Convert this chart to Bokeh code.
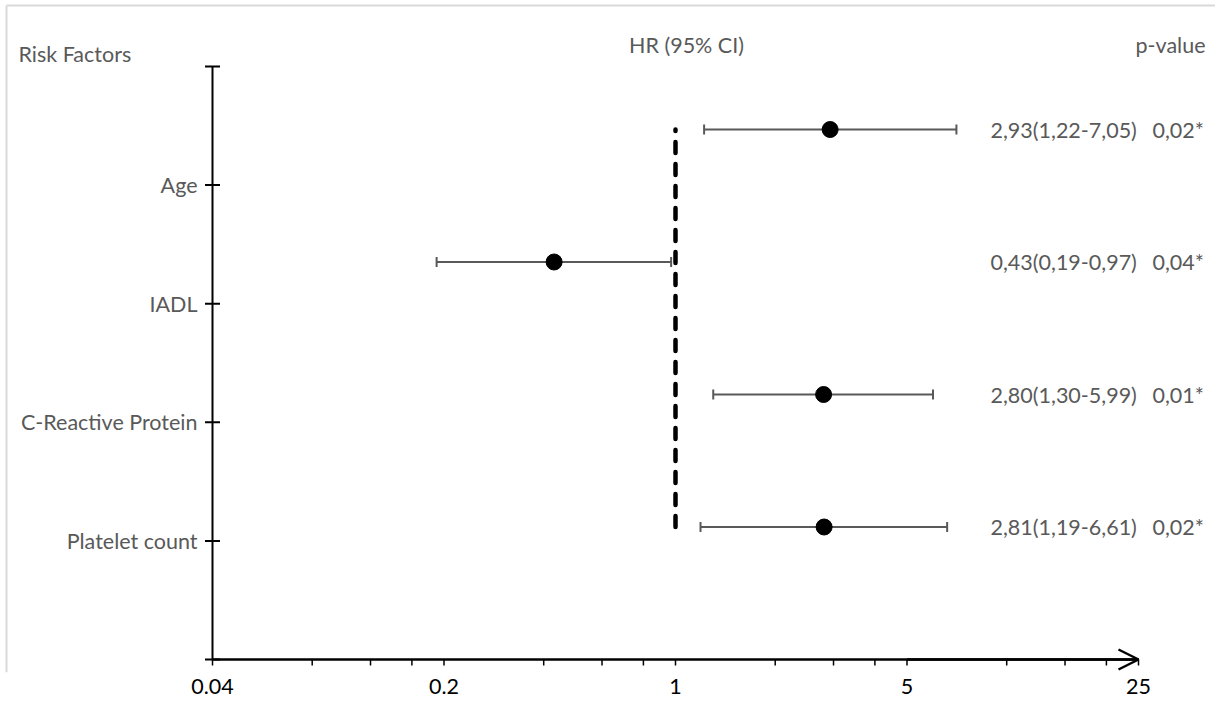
import math
from bokeh.plotting import figure
from bokeh.models import (Range1d, FixedTicker, ColumnDataSource, Whisker, TeeHead,
                          Arrow, OpenHead)
from bokeh.embed import file_html
from bokeh.resources import INLINE
from bokeh.core.properties import value

# ---------------- data ----------------
factors = ["Age", "IADL", "C-Reactive Protein", "Platelet count"]
hr = [2.93, 0.43, 2.80, 2.81]
ci_low = [1.22, 0.19, 1.30, 1.19]
ci_high = [7.05, 0.97, 5.99, 6.61]
p_values = [0.02, 0.04, 0.01, 0.02]
x_ticks = [0.04, 0.2, 1, 5, 25]
x_tick_labels = ["0.04", "0.2", "1", "5", "25"]
headers = ["Risk Factors", "HR (95% CI)", "p-value"]

# ---------------- derived ----------------
n = len(factors)
pos = [n - i for i in range(n)]  # 4,3,2,1 (top to bottom)
hr_text = [f"{h:.2f}({l:.2f}-{u:.2f})".replace(".", ",") for h, l, u in zip(hr, ci_low, ci_high)]
p_text = [f"{pv:.2f}*".replace(".", ",") for pv in p_values]
x_minor = [t * k for t in x_ticks[:-1] for k in (2, 3, 4)]

GRAY = "#595959"
BORDER = "#d9d9d9"
FONT = "Lato"
FS = "21.5px"

# ---------------- layout (page pixels) ----------------
W, H = 1215, 708
FRAME_BOTTOM = 672          # frame spans page y 0..672, x 0..W
AX_X, AX_END = 212, 1138    # page x of 0.04 and of 25 (arrow tip)
AX_Y = 659                  # page y of the x axis (y = 0)
PX_PER5 = (AX_END - AX_X) / 4
PX_Y = 118.6                # px per category step (axis ticks)
PX_PTS = 132.5              # px per step of the point rows


def xv(px):
    return x_ticks[0] * 5 ** ((px - AX_X) / PX_PER5)


def yv(py):
    return (AX_Y - py) / PX_Y


src = ColumnDataSource(dict(y=pos, hr=hr, lo=ci_low, hi=ci_high,
                            hr_text=hr_text, p_text=p_text))

p = figure(width=W, height=H, x_axis_type="log",
           x_range=Range1d(xv(0), xv(W)),
           y_range=Range1d(yv(FRAME_BOTTOM), yv(0)),
           output_backend="svg", toolbar_location=None, y_axis_location=None,
           min_border_left=0, min_border_right=0, min_border_top=0,
           min_border_bottom=H - FRAME_BOTTOM)
p.extra_y_ranges = {"pts": Range1d((AX_Y - FRAME_BOTTOM) / PX_PTS, AX_Y / PX_PTS)}
p.xgrid.visible = False
p.ygrid.visible = False
p.outline_line_color = None
p.background_fill_color = "white"
p.border_fill_color = "white"

# chart border (light grey, top and left)
p.segment(x0=xv(6), y0=yv(5), x1=xv(W), y1=yv(5), line_color=BORDER, line_width=2)
p.segment(x0=xv(6), y0=yv(5), x1=xv(6), y1=yv(FRAME_BOTTOM), line_color=BORDER, line_width=2)

# x axis: labels from Bokeh's axis; line, ticks and arrow drawn along y = 0
xa = p.xaxis[0]
xa.ticker = FixedTicker(ticks=x_ticks, minor_ticks=x_minor)
xa.major_label_overrides = {t: lab for t, lab in zip(x_ticks, x_tick_labels)}
xa.axis_line_color = None
xa.major_tick_line_color = None
xa.minor_tick_line_color = None
xa.major_tick_in = 0
xa.major_tick_out = 0
xa.minor_tick_in = 0
xa.minor_tick_out = 0
xa.major_label_standoff = 6
xa.major_label_text_font = FONT
xa.major_label_text_font_size = FS
xa.major_label_text_color = "black"

p.segment(x0=x_ticks[0], y0=0, x1=x_ticks[-1], y1=0, line_color="black", line_width=2.5)
p.ray(x=x_ticks + x_minor, y=[0] * (len(x_ticks) + len(x_minor)), length=6,
      length_units="screen", angle=-math.pi / 2, line_color="black", line_width=1.5)
p.add_layout(Arrow(end=OpenHead(size=20, line_width=2.5, line_color="black"),
                   x_start=x_ticks[-2], y_start=0, x_end=x_ticks[-1], y_end=0,
                   line_color="black", line_width=2.5))

# y axis (category axis) at x = 0.04
ytick_vals = list(range(0, n + 2))
p.segment(x0=x_ticks[0], y0=0, x1=x_ticks[0], y1=n + 1, line_color="black", line_width=2)
p.scatter(x=[x_ticks[0]] * len(ytick_vals), y=ytick_vals, marker="dash", size=15,
          line_color="black", line_width=2)
p.text(x=[x_ticks[0]] * n, y=pos, text=factors, x_offset=-15,
       text_align="right", text_baseline="middle",
       text_font=value(FONT), text_font_size=FS, text_color=GRAY)

# headers
p.text(x=[x_ticks[0], 1, x_ticks[-1]], y=[yv(53), yv(44), yv(44)], text=headers,
       x_offset=[18 - AX_X, 11, 1205 - AX_END],
       text_align=["left", "center", "right"], text_baseline="middle",
       text_font=value(FONT), text_font_size=FS, text_color=GRAY)

# reference line at HR = 1
p.segment(x0=1, y0=min(pos), x1=1, y1=max(pos), y_range_name="pts",
          line_color="black", line_width=4.5, line_dash="11 11", line_cap="round")

# confidence intervals
p.add_layout(Whisker(source=src, base="y", lower="lo", upper="hi", dimension="width",
                     y_range_name="pts", line_color=GRAY, line_width=2,
                     lower_head=TeeHead(size=10, line_color=GRAY, line_width=2),
                     upper_head=TeeHead(size=10, line_color=GRAY, line_width=2)))

# points
p.scatter("hr", "y", source=src, y_range_name="pts", size=16,
          fill_color="black", line_color="black")

# HR (95% CI) and p-value columns
p.text(x=x_ticks[-1], y="y", text="hr_text", source=src, y_range_name="pts",
       x_offset=990 - AX_END, text_align="left", text_baseline="middle",
       text_font=value(FONT), text_font_size=FS, text_color=GRAY)
p.text(x=x_ticks[-1], y="y", text="p_text", source=src, y_range_name="pts",
       x_offset=1152 - AX_END, text_align="left", text_baseline="middle",
       text_font=value(FONT), text_font_size=FS, text_color=GRAY)

open("out.html", "w").write(file_html(p, INLINE))
